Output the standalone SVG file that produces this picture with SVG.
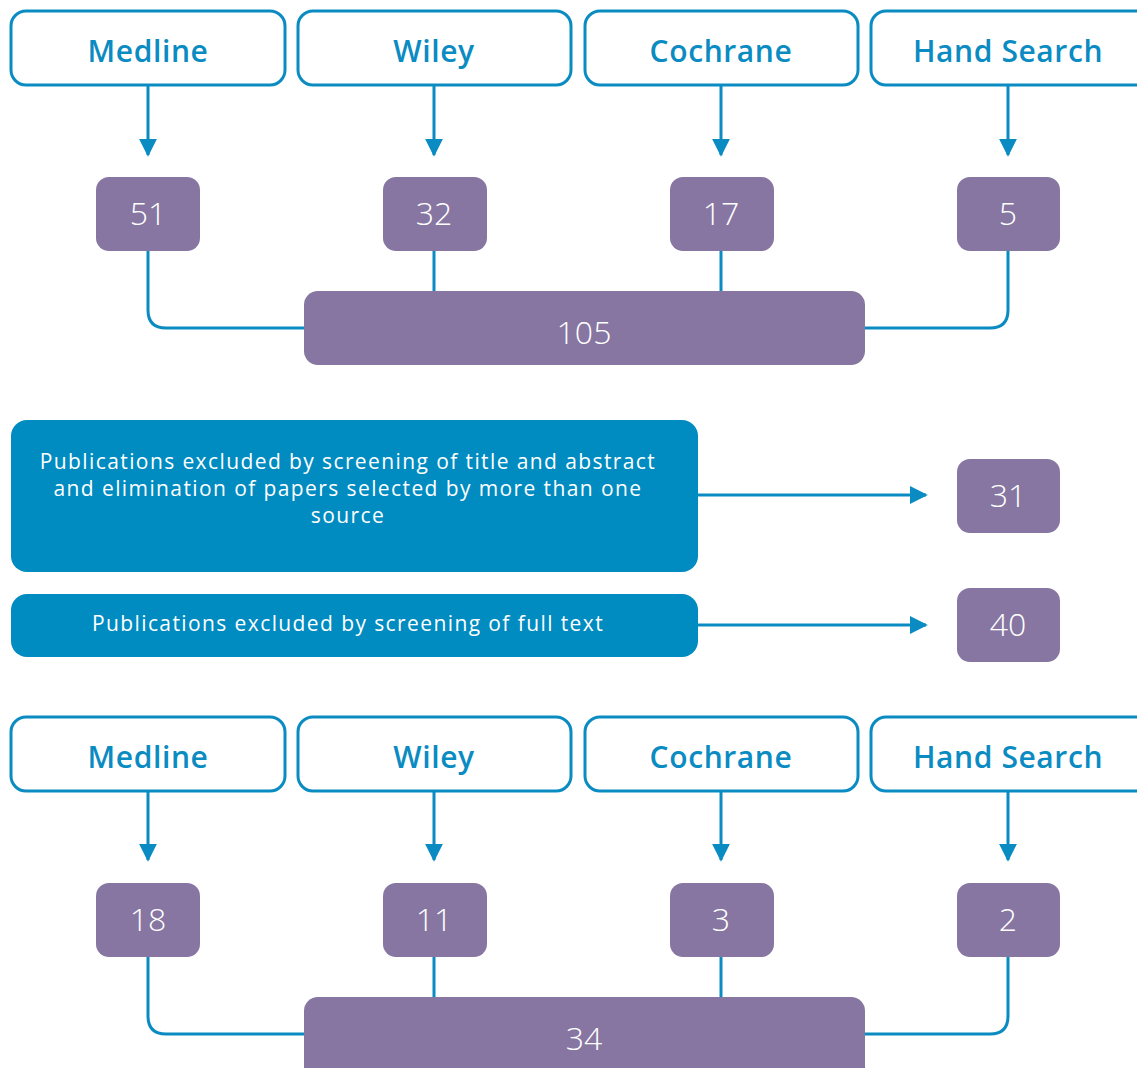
<svg xmlns="http://www.w3.org/2000/svg" width="1137" height="1068" viewBox="0 0 1137 1068">
<defs>
<style>
.src rect{fill:#fff;stroke:#0a8bc2;stroke-width:3}
.src text{font-family:"Open Sans","Liberation Sans",sans-serif;font-weight:600;font-size:30px;letter-spacing:0.6px;fill:#0a8bc2;text-anchor:middle}
.num rect{fill:#8676a1}
.num text{font-family:"Open Sans","Liberation Sans",sans-serif;font-weight:300;font-size:32px;fill:#fff;text-anchor:middle}
.ex rect{fill:#008bc1}
.ex text{font-family:"Open Sans","Liberation Sans",sans-serif;font-weight:400;font-size:21px;letter-spacing:1.4px;fill:#fff;text-anchor:middle}
.conn path{fill:none;stroke:#0a8bc2;stroke-width:3}
</style>
<marker id="ah" viewBox="0 0 10 10" refX="9" refY="5" markerWidth="6" markerHeight="6" orient="auto" markerUnits="strokeWidth">
<path d="M0,0 L10,5 L0,10 Z" fill="#0a8bc2"/>
</marker>
</defs>

<g class="conn">
<path d="M148,85 V155" marker-end="url(#ah)"/>
<path d="M434,85 V155" marker-end="url(#ah)"/>
<path d="M721,85 V155" marker-end="url(#ah)"/>
<path d="M1008,85 V155" marker-end="url(#ah)"/>
<path d="M148,250 V310 Q148,328 166,328 H306"/>
<path d="M1008,250 V310 Q1008,328 990,328 H862"/>
<path d="M434,250 V293"/>
<path d="M721,250 V293"/>
<path d="M698,495 H926" marker-end="url(#ah)"/>
<path d="M698,625 H926" marker-end="url(#ah)"/>
<path d="M148,791 V860" marker-end="url(#ah)"/>
<path d="M434,791 V860" marker-end="url(#ah)"/>
<path d="M721,791 V860" marker-end="url(#ah)"/>
<path d="M1008,791 V860" marker-end="url(#ah)"/>
<path d="M148,956 V1016 Q148,1034 166,1034 H306"/>
<path d="M1008,956 V1016 Q1008,1034 990,1034 H862"/>
<path d="M434,956 V999"/>
<path d="M721,956 V999"/>
</g>

<g id="src-medline-1" class="src"><rect x="11" y="11" width="274" height="74" rx="15"/><text x="148" y="62">Medline</text></g>
<g id="src-wiley-1" class="src"><rect x="298" y="11" width="273" height="74" rx="15"/><text x="434" y="62">Wiley</text></g>
<g id="src-cochrane-1" class="src"><rect x="585" y="11" width="273" height="74" rx="15"/><text x="721" y="62">Cochrane</text></g>
<g id="src-hand-1" class="src"><rect x="871" y="11" width="280" height="74" rx="15"/><text x="1008" y="62">Hand Search</text></g>

<g id="n51" class="num"><rect x="96" y="177" width="104" height="74" rx="13"/><text x="148" y="225">51</text></g>
<g id="n32" class="num"><rect x="383" y="177" width="104" height="74" rx="13"/><text x="434" y="225">32</text></g>
<g id="n17" class="num"><rect x="670" y="177" width="104" height="74" rx="13"/><text x="721" y="225">17</text></g>
<g id="n5" class="num"><rect x="957" y="177" width="103" height="74" rx="13"/><text x="1008" y="225">5</text></g>
<g id="n105" class="num"><rect x="304" y="291" width="561" height="74" rx="14"/><text x="584" y="344">105</text></g>

<g id="ex1" class="ex"><rect x="11" y="420" width="687" height="152" rx="16"/>
<text x="348" y="469">Publications excluded by screening of title and abstract</text>
<text x="348" y="496">and elimination of papers selected by more than one</text>
<text x="348" y="523">source</text></g>
<g id="n31" class="num"><rect x="957" y="459" width="103" height="74" rx="13"/><text x="1008" y="507">31</text></g>

<g id="ex2" class="ex"><rect x="11" y="594" width="687" height="63" rx="16"/>
<text x="348" y="631">Publications excluded by screening of full text</text></g>
<g id="n40" class="num"><rect x="957" y="588" width="103" height="74" rx="13"/><text x="1008" y="636">40</text></g>

<g id="src-medline-2" class="src"><rect x="11" y="717" width="274" height="74" rx="15"/><text x="148" y="768">Medline</text></g>
<g id="src-wiley-2" class="src"><rect x="298" y="717" width="273" height="74" rx="15"/><text x="434" y="768">Wiley</text></g>
<g id="src-cochrane-2" class="src"><rect x="585" y="717" width="273" height="74" rx="15"/><text x="721" y="768">Cochrane</text></g>
<g id="src-hand-2" class="src"><rect x="871" y="717" width="280" height="74" rx="15"/><text x="1008" y="768">Hand Search</text></g>

<g id="n18" class="num"><rect x="96" y="883" width="104" height="74" rx="13"/><text x="148" y="931">18</text></g>
<g id="n11" class="num"><rect x="383" y="883" width="104" height="74" rx="13"/><text x="434" y="931">11</text></g>
<g id="n3" class="num"><rect x="670" y="883" width="104" height="74" rx="13"/><text x="721" y="931">3</text></g>
<g id="n2" class="num"><rect x="957" y="883" width="103" height="74" rx="13"/><text x="1008" y="931">2</text></g>
<g id="n34" class="num"><rect x="304" y="997" width="561" height="90" rx="14"/><text x="584" y="1050">34</text></g>
</svg>
